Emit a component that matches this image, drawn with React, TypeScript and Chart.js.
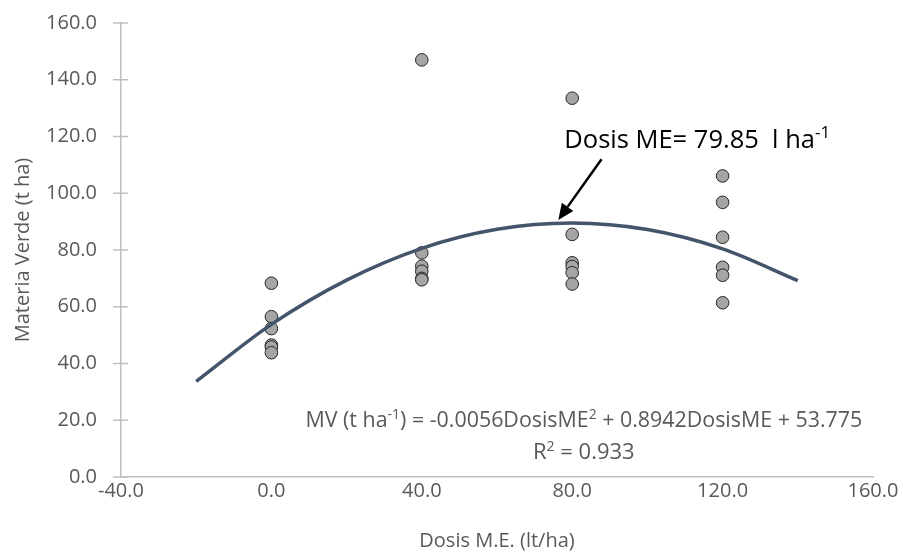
import React, { useEffect, useRef } from 'react';
import { Chart, registerables } from 'chart.js';

Chart.register(...registerables);

// ---- data ----
const doses = [0, 40, 80, 120];
const mvDose0 = [68.3, 56.5, 52.3, 46.5, 45.8, 43.8];
const mvDose40 = [147.0, 79.0, 74.3, 72.5, 70.0, 69.5];
const mvDose80 = [133.5, 85.5, 75.5, 74.2, 72.0, 68.0];
const mvDose120 = [106.1, 96.8, 84.5, 73.9, 71.1, 61.4];
const mvByDose = [mvDose0, mvDose40, mvDose80, mvDose120];

// trend line values
const trendX = [-20, 0, 20, 40, 60, 80, 100, 120, 140];
const trendY = [33.7, 53.8, 69.4, 80.6, 87.3, 89.5, 87.2, 80.4, 69.2];

const xMin = -40;
const xMax = 160;
const xStep = 40;
const yMin = 0;
const yMax = 160;
const yStep = 20;

const xTitle = 'Dosis M.E. (lt/ha)';
const yTitle = 'Materia Verde (t ha)';

// annotation anchors (data coordinates)
const arrowFrom = [87.8, 112.0];
const arrowTo = [76.3, 90.6];
const doseLabelAt = [77.9, 116.0];
const eqCenterX = 83.1;
const eqLineY = 17.5;
const r2LineY = 6.2;

const FONT = '"Open Sans", "DejaVu Sans", sans-serif';
const GRAY_TEXT = '#595959';
const AXIS_GRAY = '#BFBFBF';

type Run = { t: string; sup?: boolean };

function drawRuns(
  ctx: CanvasRenderingContext2D,
  runs: Run[],
  x: number,
  y: number,
  size: number,
  color: string,
  align: 'left' | 'center' | 'right',
  supRatio = 0.64
) {
  const supSize = Math.round(size * supRatio);
  const fontFor = (r: Run) => `${r.sup ? supSize : size}px ${FONT}`;
  const measure = (r: Run) => {
    ctx.font = fontFor(r);
    return ctx.measureText(r.t).width;
  };
  const total = runs.reduce((a, r) => a + measure(r), 0);
  let cx = align === 'left' ? x : align === 'center' ? x - total / 2 : x - total;
  ctx.fillStyle = color;
  ctx.textBaseline = 'alphabetic';
  ctx.textAlign = 'left';
  for (const r of runs) {
    ctx.font = fontFor(r);
    ctx.fillText(r.t, cx, r.sup ? y - size * 0.4 : y);
    cx += ctx.measureText(r.t).width;
  }
  return total;
}

const annotationPlugin = {
  id: 'annotations',
  afterDraw(chart: any) {
    const ctx: CanvasRenderingContext2D = chart.ctx;
    const xs = chart.scales.x;
    const ys = chart.scales.y;
    const area = chart.chartArea;

    ctx.save();
    // cross tick marks on the y axis
    ctx.strokeStyle = AXIS_GRAY;
    ctx.lineWidth = 1.5;
    for (let v = yMin; v <= yMax; v += yStep) {
      const py = ys.getPixelForValue(v);
      ctx.beginPath();
      ctx.moveTo(area.left - 8, py);
      ctx.lineTo(area.left + 7, py);
      ctx.stroke();
    }

    // arrow
    const ax1 = xs.getPixelForValue(arrowFrom[0]);
    const ay1 = ys.getPixelForValue(arrowFrom[1]);
    const ax2 = xs.getPixelForValue(arrowTo[0]);
    const ay2 = ys.getPixelForValue(arrowTo[1]);
    const ang = Math.atan2(ay2 - ay1, ax2 - ax1);
    const headLen = 16;
    const headW = 7;
    const bx = ax2 - headLen * Math.cos(ang);
    const by = ay2 - headLen * Math.sin(ang);
    ctx.strokeStyle = '#000000';
    ctx.fillStyle = '#000000';
    ctx.lineWidth = 2.5;
    ctx.beginPath();
    ctx.moveTo(ax1, ay1);
    ctx.lineTo(bx, by);
    ctx.stroke();
    ctx.beginPath();
    ctx.moveTo(ax2, ay2);
    ctx.lineTo(bx + headW * Math.sin(ang), by - headW * Math.cos(ang));
    ctx.lineTo(bx - headW * Math.sin(ang), by + headW * Math.cos(ang));
    ctx.closePath();
    ctx.fill();

    // "Dosis ME" label
    drawRuns(
      ctx,
      [{ t: 'Dosis ME= 79.85  l ha' }, { t: '-1', sup: true }],
      xs.getPixelForValue(doseLabelAt[0]),
      ys.getPixelForValue(doseLabelAt[1]),
      25.5,
      '#000000',
      'left',
      0.68
    );

    // regression equation
    drawRuns(
      ctx,
      [
        { t: 'MV (t ha' },
        { t: '-1', sup: true },
        { t: ') = -0.0056DosisME' },
        { t: '2', sup: true },
        { t: ' + 0.8942DosisME + 53.775' },
      ],
      xs.getPixelForValue(eqCenterX),
      ys.getPixelForValue(eqLineY),
      21.4,
      GRAY_TEXT,
      'center'
    );
    drawRuns(
      ctx,
      [{ t: 'R' }, { t: '2', sup: true }, { t: ' = 0.933' }],
      xs.getPixelForValue(eqCenterX),
      ys.getPixelForValue(r2LineY),
      22,
      GRAY_TEXT,
      'center'
    );
    ctx.restore();
  },
};

export default function App() {
  const canvasRef = useRef<HTMLCanvasElement | null>(null);

  useEffect(() => {
    const canvas = canvasRef.current;
    if (!canvas) return;

    const scatterPoints: { x: number; y: number }[] = [];
    doses.forEach((d, i) => {
      mvByDose[i].forEach((v) => scatterPoints.push({ x: d, y: v }));
    });
    const trendPoints = trendX.map((x, i) => ({ x, y: trendY[i] }));

    const chart = new Chart(canvas, {
      type: 'scatter',
      data: {
        datasets: [
          {
            label: 'Tendencia',
            data: trendPoints,
            showLine: true,
            borderColor: '#44546A',
            borderWidth: 3.5,
            pointRadius: 0,
            cubicInterpolationMode: 'monotone',
            fill: false,
          } as any,
          {
            label: 'Materia Verde',
            data: scatterPoints,
            backgroundColor: '#A5A5A5',
            borderColor: '#262626',
            borderWidth: 1,
            pointRadius: 6.3,
            pointHoverRadius: 6.3,
          },
        ],
      },
      options: {
        responsive: false,
        animation: false,
        events: [],
        layout: { padding: { top: 23, right: 30, left: 0, bottom: 0 } },
        plugins: {
          legend: { display: false },
          tooltip: { enabled: false },
        },
        scales: {
          x: {
            type: 'linear',
            min: xMin,
            max: xMax,
            afterFit: (s: any) => {
              s.height = 80;
              s.paddingLeft = 0;
              s.paddingRight = 0;
            },
            grid: { display: false, drawTicks: false },
            border: { display: true, color: AXIS_GRAY, width: 1.5 },
            ticks: {
              stepSize: xStep,
              padding: 2,
              color: GRAY_TEXT,
              font: { family: FONT, size: 20 },
              callback: (v: any) => Number(v).toFixed(1),
            },
            title: {
              display: true,
              text: xTitle,
              color: GRAY_TEXT,
              font: { family: FONT, size: 20 },
              padding: { top: 4, bottom: 4 },
            },
          },
          y: {
            type: 'linear',
            min: yMin,
            max: yMax,
            afterFit: (s: any) => {
              s.width = 121;
              s.paddingTop = 0;
              s.paddingBottom = 0;
            },
            grid: { display: false, drawTicks: false },
            border: { display: true, color: AXIS_GRAY, width: 1.5 },
            ticks: {
              stepSize: yStep,
              padding: 24,
              color: GRAY_TEXT,
              font: { family: FONT, size: 20 },
              callback: (v: any) => Number(v).toFixed(1),
            },
            title: {
              display: true,
              text: yTitle,
              color: GRAY_TEXT,
              font: { family: FONT, size: 20 },
              padding: { top: 11, bottom: 0 },
            },
          },
        },
      },
      plugins: [annotationPlugin],
    });

    return () => chart.destroy();
  }, []);

  return (
    <div style={{ position: 'absolute', left: 0, top: 0, width: 903, height: 557, background: '#ffffff' }}>
      <canvas ref={canvasRef} width={903} height={557} style={{ display: 'block' }} />
    </div>
  );
}
